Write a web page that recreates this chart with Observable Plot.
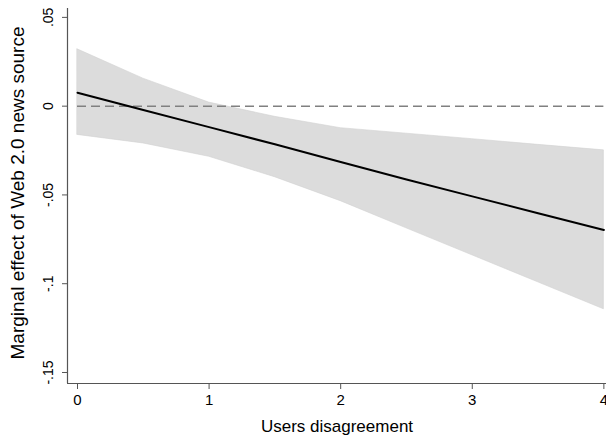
<!DOCTYPE html>
<html>
<head>
<meta charset="utf-8">
<script src="https://cdn.jsdelivr.net/npm/d3@7"></script>
<script src="https://cdn.jsdelivr.net/npm/@observablehq/plot@0.6"></script>
<style>
  html, body { margin: 0; padding: 0; background: #fff; }
  #chart svg { display: block; }
</style>
</head>
<body>
<div id="chart"></div>
<script>
// Data
const disagreement = [0, 0.5, 1, 1.5, 2, 2.5, 3, 3.5, 4];
const marginalEffect = [0.0076, -0.0022, -0.0118, -0.0215, -0.0315, -0.0413, -0.0508, -0.0603, -0.0697];
const ciUpper = [0.0320, 0.0155, 0.0020, -0.0060, -0.0124, -0.0155, -0.0186, -0.0218, -0.0249];
const ciLower = [-0.0162, -0.0210, -0.0285, -0.0400, -0.0535, -0.0688, -0.0840, -0.0992, -0.1144];
const xTicks = [0, 1, 2, 3, 4];
const yTicks = [0.05, 0, -0.05, -0.1, -0.15];
const yTickLabels = [".05", "0", "-.05", "-.1", "-.15"];
const xDomain = [-0.076, 4.02];
const yDomain = [-0.1562, 0.055];
const refLine = [0];
const xTitle = "Users disagreement";
const yTitle = "Marginal effect of Web 2.0 news source";

const rows = disagreement.map((x, i) => ({x, y: marginalEffect[i], lo: ciLower[i], hi: ciUpper[i]}));
const yTickRows = yTicks.map((v, i) => ({v, label: yTickLabels[i]}));

const font = "'Liberation Sans', Arial, sans-serif";
const axisColor = "#555";

const chart = Plot.plot({
  width: 606,
  height: 441,
  marginLeft: 67,
  marginRight: 0,
  marginTop: 8,
  marginBottom: 58,
  style: {fontFamily: font, background: "#fff", color: "#000"},
  x: {domain: xDomain},
  y: {domain: yDomain},
  marks: [
    Plot.areaY(rows, {x: "x", y1: "lo", y2: "hi", fill: "#dcdcdc", stroke: "#d2d2d2", strokeWidth: 0.6}),
    Plot.ruleY(refLine, {x1: disagreement[0], x2: disagreement[disagreement.length - 1], stroke: "#808080", strokeWidth: 1.5, strokeDasharray: "9,5"}),
    Plot.line(rows, {x: "x", y: "y", stroke: "#000", strokeWidth: 2}),
    Plot.ruleX([xDomain[0]], {stroke: axisColor, strokeWidth: 1.2}),
    Plot.ruleY([yDomain[0]], {stroke: axisColor, strokeWidth: 1.2}),
    Plot.axisX({ticks: xTicks, tickFormat: d => String(d), tickSize: 6, tickPadding: 5, fontSize: 15, stroke: axisColor, label: null}),
    Plot.axisY({ticks: yTicks, tickFormat: () => "", tickSize: 5, stroke: axisColor, label: null}),
    Plot.text(yTickRows, {y: "v", text: "label", frameAnchor: "left", dx: -19, rotate: -90, textAnchor: "middle", lineAnchor: "middle", fontSize: 14, fill: "#000"}),
    Plot.text([xTitle], {frameAnchor: "bottom", dy: 43, textAnchor: "middle", lineAnchor: "middle", fontSize: 17, fill: "#000"}),
    Plot.text([yTitle], {frameAnchor: "left", dx: -50, dy: -3, rotate: -90, textAnchor: "middle", lineAnchor: "middle", fontSize: 19, fill: "#000"})
  ]
});
document.getElementById("chart").appendChild(chart);
</script>
</body>
</html>
